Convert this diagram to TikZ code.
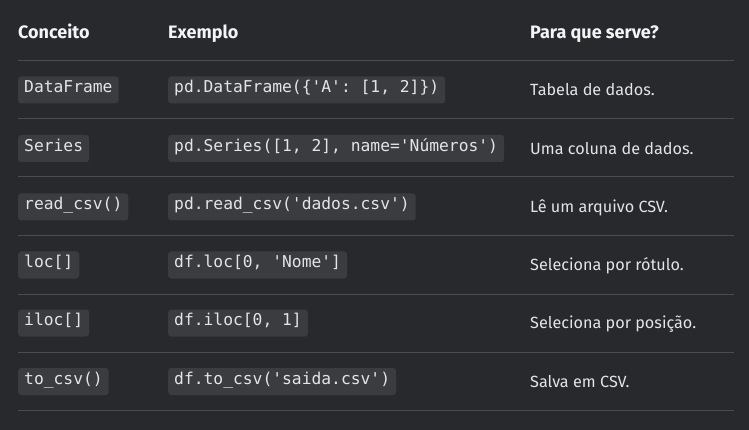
\documentclass[tikz,border=0pt]{standalone}
\usepackage{fontspec}
\setmainfont{Fira Sans}
\newfontfamily\codefont{DejaVu Sans Mono}
\usepackage{tikz}
\usetikzlibrary{positioning}
\definecolor{bgdark}{HTML}{28292D}
\definecolor{chipfill}{HTML}{3B3C40}
\definecolor{rulegray}{HTML}{4B4C50}
\definecolor{textlight}{HTML}{E4E4E6}
\definecolor{headwhite}{HTML}{F4F4F5}
\tikzset{
  head/.style={anchor=base west,inner sep=0pt,text=headwhite,font=\fontsize{18}{21}\selectfont\bfseries},
  chip/.style={anchor=west,fill=chipfill,rounded corners=3pt,inner xsep=6pt,inner ysep=0pt,
    minimum height=27pt,text height=0.75em,text depth=0.22em,text=textlight,
    font=\fontsize{16.3}{19}\codefont},
  desc/.style={anchor=base west,inner sep=0pt,text=textlight,font=\fontsize{16.2}{19}\selectfont},
  rule/.style={rulegray,line width=1pt}
}

\begin{document}
\begin{tikzpicture}[x=1pt,y=-1pt]
    \fill[bgdark] (0,0) rectangle (749,430);
    \useasboundingbox (0,0) rectangle (749,430);

    \node[head] (hcon) at (18,38.5) {Conceito};
    \node[head] (hex) at (168,38.5) {Exemplo};
    \node[head] (hpara) at (530,38.5) {Para que serve?};

    \foreach \y in {61,119,177,236,294,352,410}
      \draw[rule] (18,\y) -- (734,\y);

    \node[chip] (con1) at (18,90) {DataFrame};
    \node[chip] (ex1) at (168,90) {pd.DataFrame(\{'A': [1, 2]\})};
    \node[desc] (para1) at (530,95.7) {Tabela de dados.};

    \node[chip] (con2) at (18,148.5) {Series};
    \node[chip] (ex2) at (168,148.5) {pd.Series([1, 2], name='Números')};
    \node[desc] (para2) at (530,154.2) {Uma coluna de dados.};

    \node[chip] (con3) at (18,207) {read\_csv()};
    \node[chip] (ex3) at (168,207) {pd.read\_csv('dados.csv')};
    \node[desc] (para3) at (530,212.7) {Lê um arquivo CSV.};

    \node[chip] (con4) at (18,265) {loc[]};
    \node[chip] (ex4) at (168,265) {df.loc[0, 'Nome']};
    \node[desc] (para4) at (530,270.7) {Seleciona por rótulo.};

    \node[chip] (con5) at (18,323) {iloc[]};
    \node[chip] (ex5) at (168,323) {df.iloc[0, 1]};
    \node[desc] (para5) at (530,328.7) {Seleciona por posição.};

    \node[chip] (con6) at (18,381.5) {to\_csv()};
    \node[chip] (ex6) at (168,381.5) {df.to\_csv('saida.csv')};
    \node[desc] (para6) at (530,387.2) {Salva em CSV.};
\end{tikzpicture}
\end{document}
